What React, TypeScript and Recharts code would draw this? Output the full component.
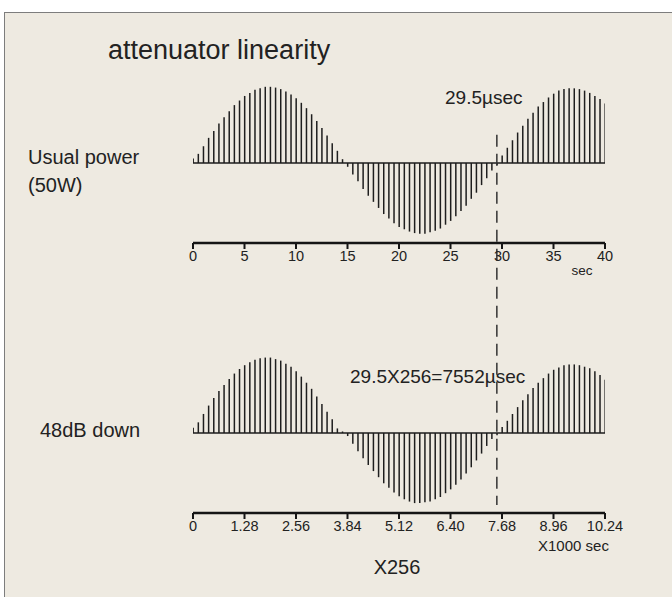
import { Bar, ComposedChart, ReferenceLine, XAxis, YAxis } from "recharts";

// stems sampled every 0.5 sec (upper) and every 0.128 x1000 sec (lower)
const upperValues = [
  0.06, 0.12, 0.22, 0.33, 0.42, 0.52, 0.6, 0.68, 0.76, 0.82,
  0.88, 0.92, 0.96, 0.98, 1.0, 1.0, 0.99, 0.97, 0.94, 0.9,
  0.85, 0.79, 0.72, 0.64, 0.55, 0.46, 0.36, 0.26, 0.16, 0.05,
  -0.05, -0.15, -0.24, -0.34, -0.43, -0.51, -0.59, -0.67, -0.73, -0.79,
  -0.84, -0.87, -0.9, -0.92, -0.93, -0.93, -0.91, -0.89, -0.86, -0.81,
  -0.76, -0.7, -0.63, -0.56, -0.47, -0.39, -0.29, -0.2, -0.1, -0.03,
  0.1, 0.2, 0.3, 0.4, 0.49, 0.58, 0.66, 0.74, 0.8, 0.86,
  0.91, 0.95, 0.97, 0.98, 0.98, 0.97, 0.95, 0.92, 0.88, 0.84,
  0.78,
];

const lowerValues = [
  0.07, 0.14, 0.25, 0.36, 0.46, 0.55, 0.63, 0.71, 0.78, 0.84,
  0.89, 0.93, 0.96, 0.98, 0.99, 0.99, 0.97, 0.95, 0.91, 0.87,
  0.81, 0.74, 0.66, 0.58, 0.48, 0.38, 0.28, 0.18, 0.06, 0.02,
  -0.04, -0.14, -0.24, -0.33, -0.42, -0.5, -0.58, -0.66, -0.72, -0.78,
  -0.83, -0.87, -0.9, -0.92, -0.92, -0.91, -0.9, -0.87, -0.84, -0.79,
  -0.74, -0.68, -0.61, -0.53, -0.45, -0.36, -0.27, -0.17, -0.08, -0.03,
  0.08, 0.16, 0.25, 0.34, 0.43, 0.51, 0.59, 0.66, 0.72, 0.78,
  0.83, 0.86, 0.89, 0.9, 0.9, 0.89, 0.87, 0.85, 0.81, 0.76,
  0.7,
];

const upperStep = 0.5;
const lowerStep = 0.128;
const upperTicks = [0, 5, 10, 15, 20, 25, 30, 35, 40];
const lowerTickLabels = ["0", "1.28", "2.56", "3.84", "5.12", "6.40", "7.68", "8.96", "10.24"];
const markerUpper = 29.5;

const upperData = upperValues.map((v, i) => ({ t: i * upperStep, v }));
const lowerData = lowerValues.map((v, i) => ({ t: i * lowerStep, v }));
const lowerTicks = lowerTickLabels.map(Number);

const FONT = "'Liberation Sans', Arial, sans-serif";
const INK = "#222";

function Txt({ x, y, size, children, center }: { x: number; y: number; size: number; children: string; center?: boolean }) {
  const lh = Math.round(size * 1.1);
  return (
    <div
      style={{
        position: "absolute",
        left: center ? x - 100 : x,
        width: center ? 200 : undefined,
        textAlign: center ? "center" : "left",
        top: y - lh / 2,
        lineHeight: `${lh}px`,
        fontSize: size,
        fontFamily: FONT,
        color: INK,
        whiteSpace: "nowrap",
      }}
    >
      {children}
    </div>
  );
}

function StemChart({
  data,
  domain,
  ticks,
  format,
  top,
  marker,
}: {
  data: Array<{ t: number; v: number }>;
  domain: [number, number];
  ticks: number[];
  format: (v: number, i: number) => string;
  top: number;
  marker?: number;
}) {
  return (
    <div style={{ position: "absolute", left: 0, top }}>
      <ComposedChart width={672} height={300} data={data} margin={{ top: 83, right: 67, left: 193, bottom: 0 }}>
        <XAxis
          dataKey="t"
          type="number"
          domain={domain}
          ticks={ticks}
          interval={0}
          allowDataOverflow
          height={57}
          axisLine={{ stroke: "#151515", strokeWidth: 2.5 }}
          tickLine={{ stroke: "#151515", strokeWidth: 2 }}
          tickSize={6}
          tickMargin={2}
          tick={{ fontSize: 14.5, fill: INK, fontFamily: FONT }}
          tickFormatter={format}
        />
        <YAxis hide type="number" domain={[-1.05, 1.05]} allowDataOverflow />
        <ReferenceLine y={0} stroke="#1c1c1c" strokeWidth={1.6} />
        <Bar dataKey="v" fill="#1e1e1e" barSize={1.5} isAnimationActive={false} />
        {marker !== undefined && (
          <ReferenceLine
            segment={[
              { x: marker, y: 0.37 },
              { x: marker, y: -4.49 },
            ]}
            stroke="#333"
            strokeWidth={1.5}
            strokeDasharray="12 7"
            ifOverflow="visible"
          />
        )}
      </ComposedChart>
    </div>
  );
}

export default function App() {
  return (
    <div style={{ position: "relative", width: 672, height: 597, background: "#fff", overflow: "hidden" }}>
      <style>{"body{margin:0}.recharts-surface{overflow:visible}"}</style>
      <div
        style={{
          position: "absolute",
          left: 4,
          top: 12,
          width: 700,
          height: 600,
          background: "#EEEAE1",
          borderTop: "1px solid #7d7d7d",
          borderLeft: "1px solid #7d7d7d",
        }}
      />
      <StemChart
        data={lowerData}
        domain={[0, 10.24]}
        ticks={lowerTicks}
        format={(_, i) => lowerTickLabels[i]}
        top={270}
      />
      <StemChart
        data={upperData}
        domain={[0, 40]}
        ticks={upperTicks}
        format={(v) => String(v)}
        top={0}
        marker={markerUpper}
      />
      <Txt x={108} y={50} size={27}>attenuator linearity</Txt>
      <Txt x={28} y={157} size={20}>Usual power</Txt>
      <Txt x={28} y={185} size={20}>(50W)</Txt>
      <Txt x={40} y={430} size={20}>48dB down</Txt>
      <Txt x={445} y={97} size={19}>29.5µsec</Txt>
      <Txt x={350} y={376} size={19}>29.5X256=7552µsec</Txt>
      <Txt x={582} y={270} size={13.5} center>sec</Txt>
      <Txt x={538} y={545} size={15}>X1000 sec</Txt>
      <Txt x={397} y={567} size={20} center>X256</Txt>
    </div>
  );
}
